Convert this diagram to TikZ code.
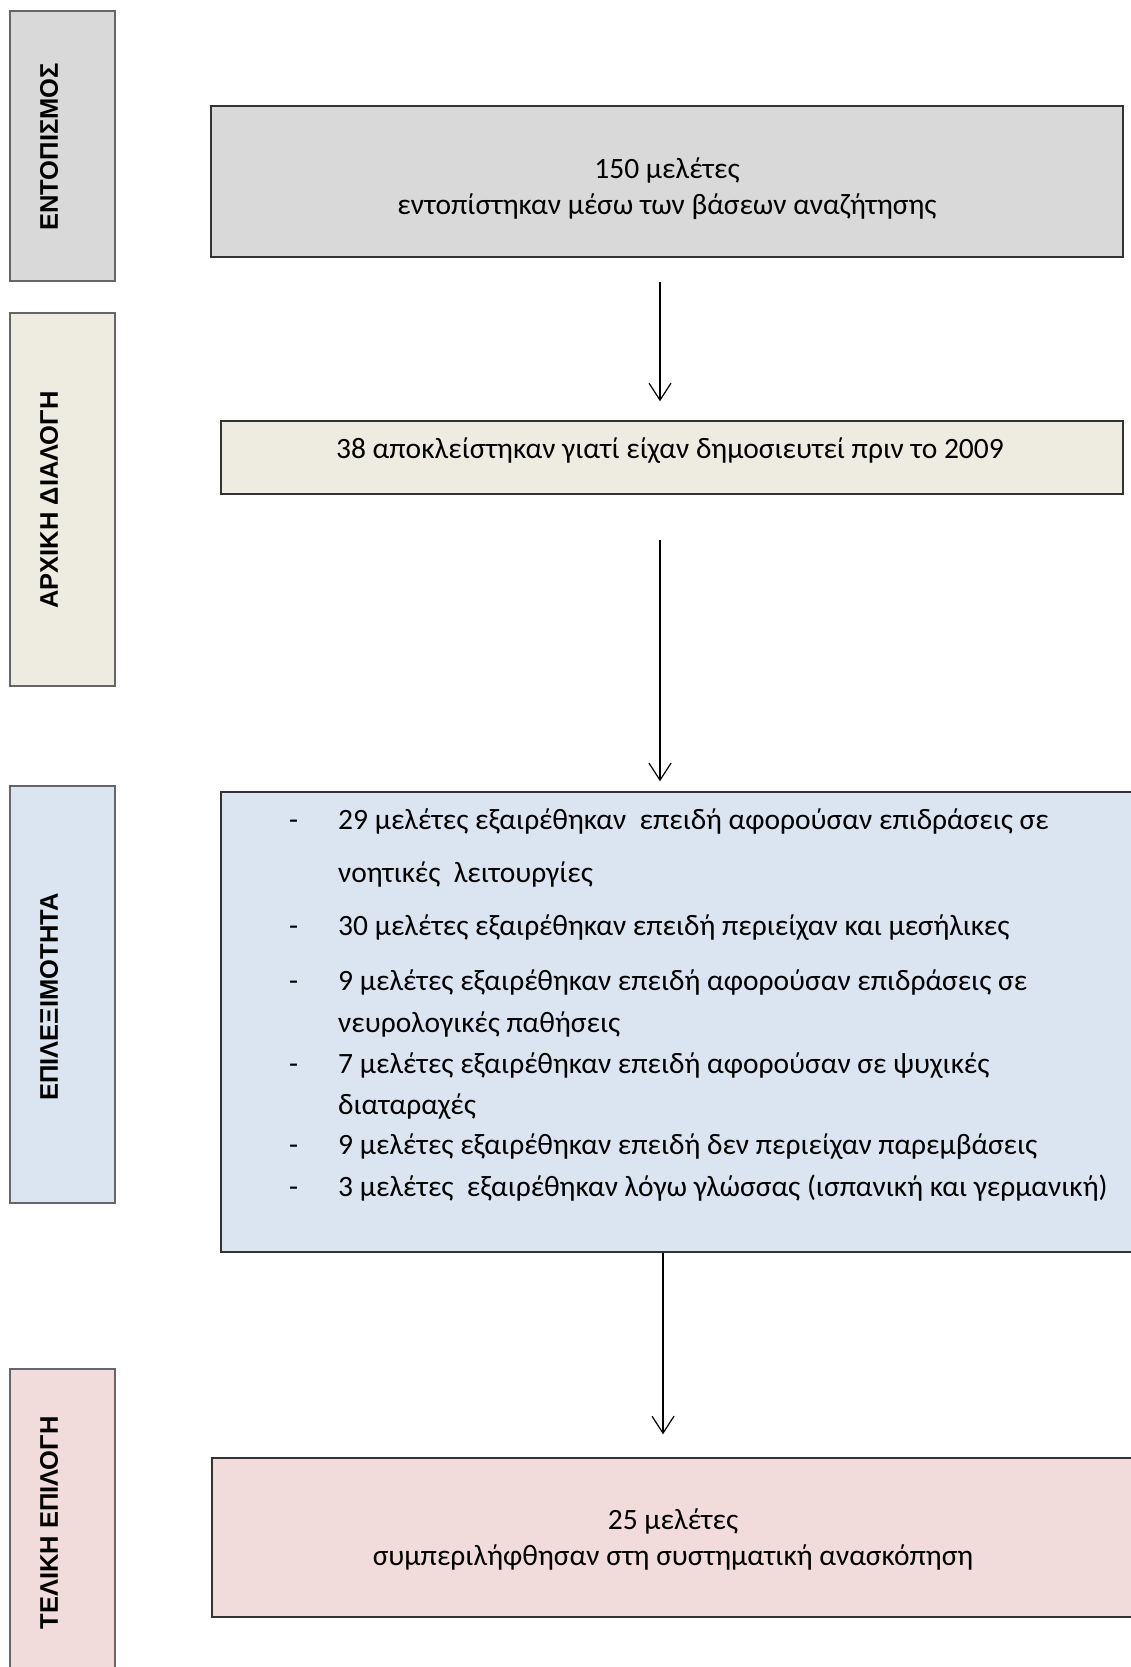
\documentclass[tikz,border=0pt]{standalone}
\usepackage{fontspec}
\setmainfont{Carlito}
\newfontfamily\labelfont{Liberation Sans}
\usepackage{tikz}
\usetikzlibrary{arrows.meta}
\tikzset{>={Straight Barb[length=17pt,width=22pt]}}
\definecolor{grayfill}{HTML}{D9D9D9}
\definecolor{tanfill}{HTML}{EEECE1}
\definecolor{bluefill}{HTML}{DBE5F1}
\definecolor{pinkfill}{HTML}{F2DCDB}

\begin{document}
\begin{tikzpicture}[x=1pt,y=-1pt,
    phase/.style={draw=black!60, line width=1.5pt},
    stage/.style={draw=black!80, line width=1.5pt, inner sep=0pt},
    sidetext/.style={rotate=90, font=\labelfont\bfseries\fontsize{25.5}{30}\selectfont},
    boxtext/.style={font=\fontsize{29.5}{36}\selectfont, align=center},
    itemtext/.style={anchor=base west, inner sep=0pt, font=\fontsize{29.5}{36}\selectfont},
    flow/.style={->, line width=1.2pt}]
  \useasboundingbox (0,0) rectangle (1130,1667);

  % phases on the left
  \draw[phase, fill=grayfill] (10,11) rectangle (115,281);
  \draw[phase, fill=tanfill] (10,313) rectangle (115,686);
  \draw[phase, fill=bluefill] (10,786) rectangle (115,1203);
  \draw[phase, fill=pinkfill] (10,1369) rectangle (115,1690);
  \node[sidetext] (ph1) at (49,147) {ΕΝΤΟΠΙΣΜΟΣ};
  \node[sidetext] (ph2) at (49,500) {ΑΡΧΙΚΗ ΔΙΑΛΟΓΗ};
  \node[sidetext] (ph3) at (49,997) {ΕΠΙΛΕΞΙΜΟΤΗΤΑ};
  \node[sidetext] (ph4) at (49,1523) {ΤΕΛΙΚΗ ΕΠΙΛΟΓΗ};

  % boxes
  \node[stage, fill=grayfill, minimum width=912pt, minimum height=151pt] (found) at (667,181.5) {};
  \node[stage, fill=tanfill, minimum width=902pt, minimum height=73pt] (early) at (672,457.5) {};
  \node[stage, fill=bluefill, minimum width=919pt, minimum height=460pt] (elig) at (680.5,1022) {};
  \node[stage, fill=pinkfill, minimum width=928pt, minimum height=159pt] (final) at (676,1537.5) {};

  \node[boxtext] (foundtxt) at (667,189) {150 μελέτες\\εντοπίστηκαν μέσω των βάσεων αναζήτησης};
  \node[boxtext] (earlytxt) at (670,451) {38 αποκλείστηκαν γιατί είχαν δημοσιευτεί πριν το 2009};
  \node[boxtext] (finaltxt) at (673,1539) {25 μελέτες\\συμπεριλήφθησαν στη συστηματική ανασκόπηση};

  % excluded list
  \node[itemtext] (d1) at (289,829) {-};
  \node[itemtext] (e1) at (338,829) {29 μελέτες εξαιρέθηκαν~ επειδή αφορούσαν επιδράσεις σε};
  \node[itemtext] (e1b) at (338,882) {νοητικές~ λειτουργίες};
  \node[itemtext] (d2) at (289,935) {-};
  \node[itemtext] (e2) at (338,935) {30 μελέτες εξαιρέθηκαν επειδή περιείχαν και μεσήλικες};
  \node[itemtext] (d3) at (289,990) {-};
  \node[itemtext] (e3) at (338,990) {9 μελέτες εξαιρέθηκαν επειδή αφορούσαν επιδράσεις σε};
  \node[itemtext] (e3b) at (338,1032) {νευρολογικές παθήσεις};
  \node[itemtext] (d4) at (289,1073) {-};
  \node[itemtext] (e4) at (338,1073) {7 μελέτες εξαιρέθηκαν επειδή αφορούσαν σε ψυχικές};
  \node[itemtext] (e4b) at (338,1114) {διαταραχές};
  \node[itemtext] (d5) at (289,1154) {-};
  \node[itemtext] (e5) at (338,1154) {9 μελέτες εξαιρέθηκαν επειδή δεν περιείχαν παρεμβάσεις};
  \node[itemtext] (d6) at (289,1196) {-};
  \node[itemtext] (e6) at (338,1196) {3 μελέτες~ εξαιρέθηκαν λόγω γλώσσας (ισπανική και γερμανική)};

  % arrows
  \coordinate (ax) at (660,0);
  \coordinate (bx) at (663,0);
  \draw[flow, shorten <=24pt, shorten >=19pt] (found.south -| ax) -- (early.north -| ax);
  \draw[flow, shorten <=45pt, shorten >=10pt] (early.south -| ax) -- (elig.north -| ax);
  \draw[flow, shorten >=23pt] (elig.south -| bx) -- (final.north -| bx);
\end{tikzpicture}
\end{document}
